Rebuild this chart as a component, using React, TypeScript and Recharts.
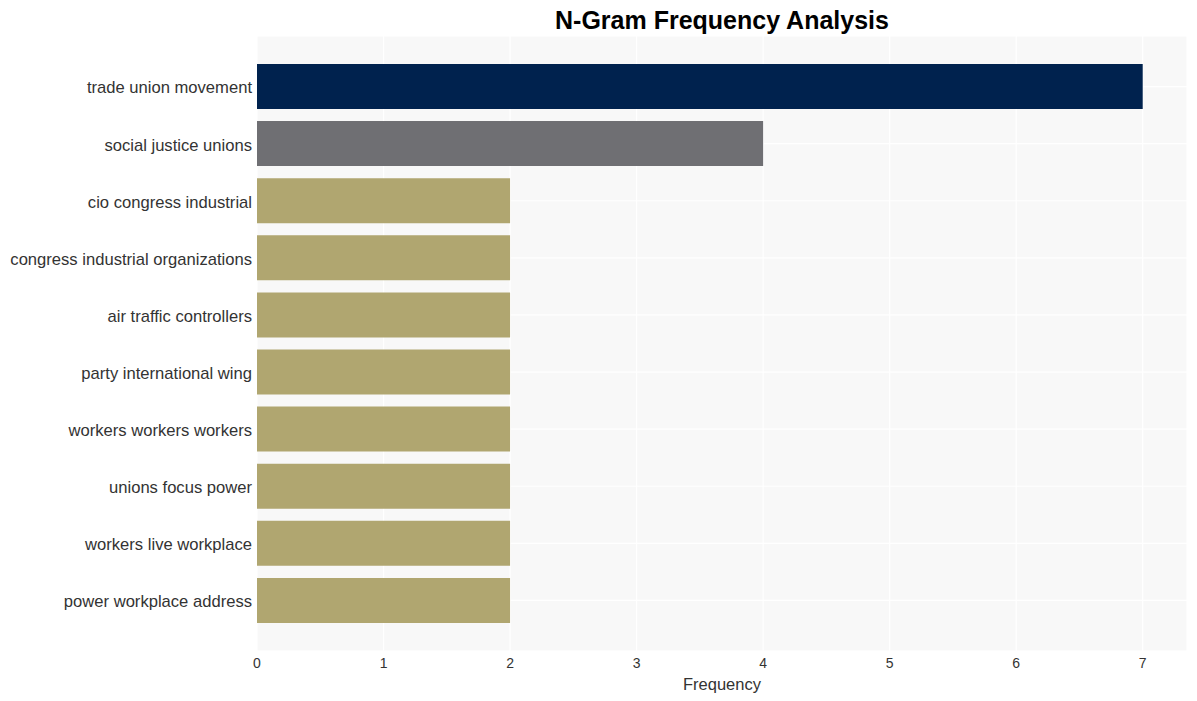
import React from 'react';
import { BarChart, Bar, XAxis, YAxis, CartesianGrid, Cell } from 'recharts';

const categories = [
  'trade union movement',
  'social justice unions',
  'cio congress industrial',
  'congress industrial organizations',
  'air traffic controllers',
  'party international wing',
  'workers workers workers',
  'unions focus power',
  'workers live workplace',
  'power workplace address',
];
const frequencies = [7, 4, 2, 2, 2, 2, 2, 2, 2, 2];
const barColors = ['#00224e', '#6f6f73', '#b0a670', '#b0a670', '#b0a670', '#b0a670', '#b0a670', '#b0a670', '#b0a670', '#b0a670'];
const xTicks = [0, 1, 2, 3, 4, 5, 6, 7];

const data = categories.map((name, i) => ({ name, value: frequencies[i] }));

const font = '"Liberation Sans", Arial, sans-serif';

export default function App() {
  return (
    <div style={{ position: 'absolute', left: 0, top: 0, width: 1197, height: 701, background: '#fff', fontFamily: font }}>
      <div style={{ position: 'absolute', left: 257, width: 930, top: 4, textAlign: 'center', fontSize: 25, fontWeight: 'bold', color: '#000', lineHeight: '32px' }}>
        N-Gram Frequency Analysis
      </div>
      <BarChart
        width={1197}
        height={701}
        data={data}
        layout="vertical"
        margin={{ top: 36, right: 10, bottom: 0, left: 0 }}
      >
        <CartesianGrid stroke="#ffffff" strokeWidth={1.2} fill="#f8f8f8" fillOpacity={1} />
        <XAxis
          type="number"
          domain={[0, 7.35]}
          ticks={xTicks}
          allowDataOverflow
          axisLine={false}
          tickLine={false}
          tickSize={0}
          tickMargin={7}
          height={50}
          tick={{ fontSize: 14, fill: '#333', fontFamily: font }}
          label={{ value: 'Frequency', position: 'insideBottom', offset: 11, fontSize: 16.5, fill: '#333', fontFamily: font }}
        />
        <YAxis
          type="category"
          dataKey="name"
          width={257}
          axisLine={false}
          tickLine={false}
          tickSize={0}
          tickMargin={5}
          padding={{ top: 22, bottom: 22 }}
          interval={0}
          tick={{ fontSize: 16.6, fill: '#333', fontFamily: font, dy: 1 }}
        />
        <Bar dataKey="value" barSize={45} isAnimationActive={false}>
          {data.map((d, i) => (
            <Cell key={d.name} fill={barColors[i]} />
          ))}
        </Bar>
      </BarChart>
    </div>
  );
}
